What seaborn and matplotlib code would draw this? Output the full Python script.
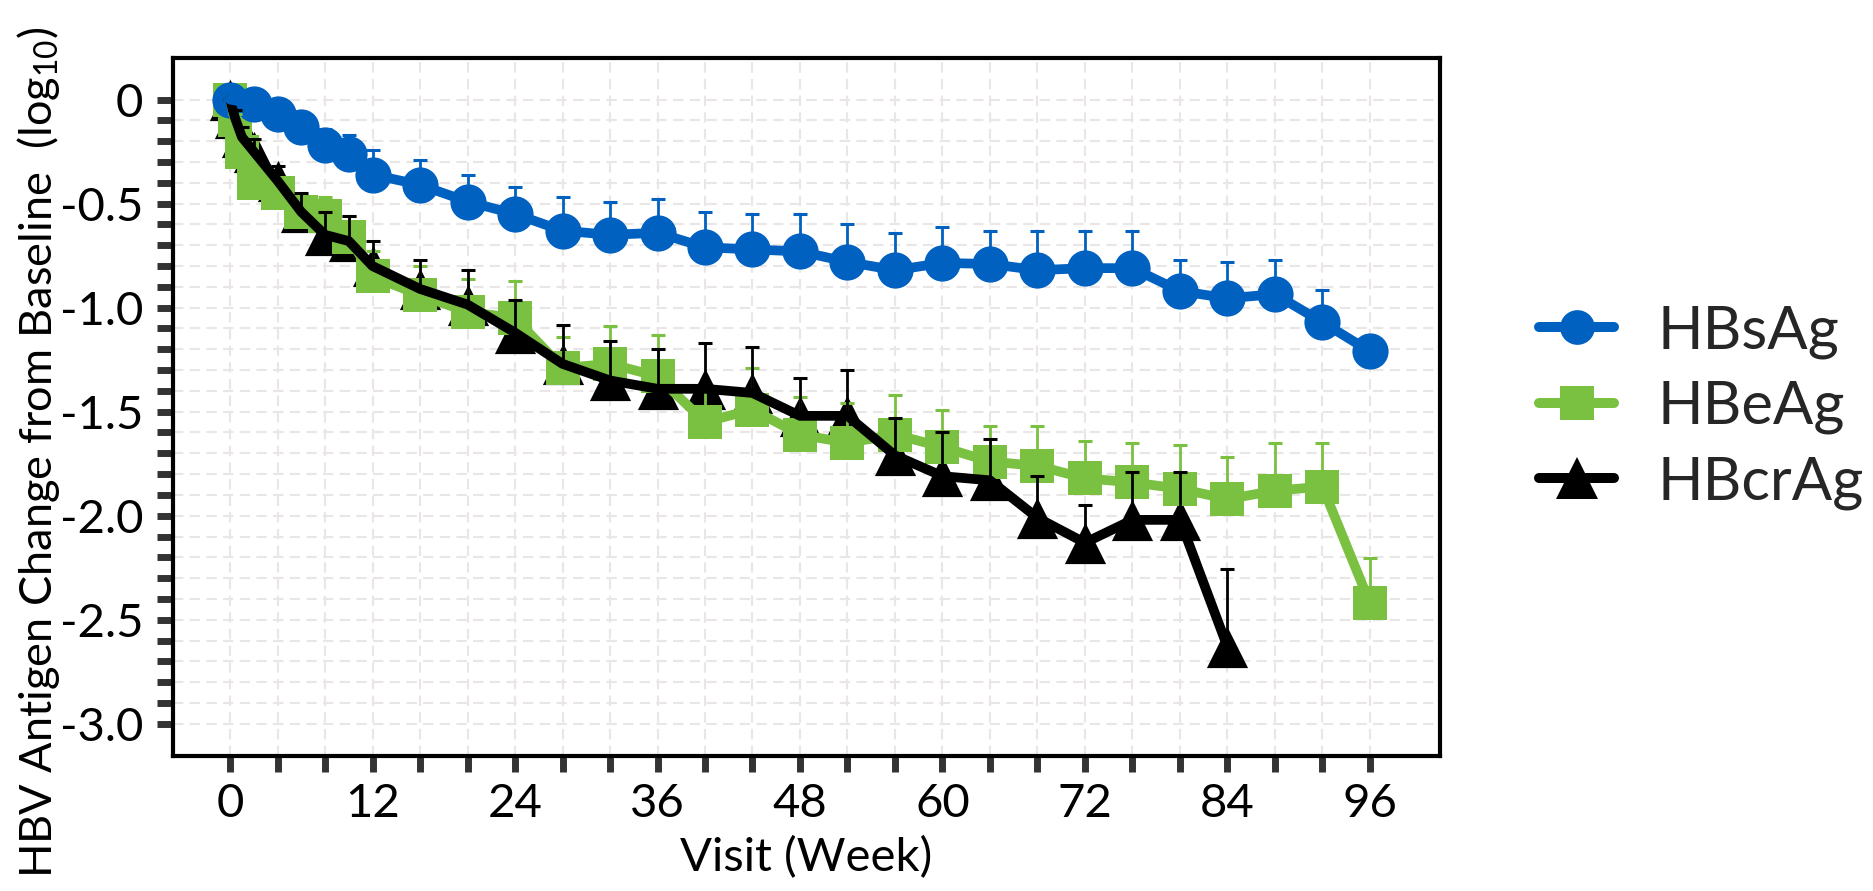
import numpy as np
import seaborn as sns
import matplotlib
matplotlib.use('Agg')  # no display in the sandbox
import matplotlib.pyplot as plt
from matplotlib.lines import Line2D
from matplotlib.ticker import FixedLocator

# values (mean change from baseline, log10, and upper error)
hbsag_weeks = [0, 2, 4, 6, 8, 10, 12, 16, 20, 24, 28, 32, 36, 40, 44, 48, 52, 56, 60, 64, 68, 72, 76, 80, 84, 88, 92, 96]
hbsag_mean = [0.0, -0.02, -0.07, -0.13, -0.22, -0.26, -0.36, -0.41, -0.49, -0.55, -0.63, -0.65, -0.64, -0.71,
              -0.72, -0.73, -0.78, -0.82, -0.785, -0.79, -0.82, -0.81, -0.81, -0.92, -0.955, -0.935, -1.07, -1.21]
hbsag_err = [0.0, 0.03, 0.05, 0.07, 0.08, 0.09, 0.12, 0.12, 0.13, 0.13, 0.16, 0.16, 0.16, 0.17,
             0.17, 0.18, 0.18, 0.18, 0.175, 0.16, 0.19, 0.18, 0.18, 0.15, 0.175, 0.165, 0.155, 0.04]

hbeag_weeks = [0, 0.43, 1, 2, 4, 6, 8, 10, 12, 16, 20, 24, 28, 32, 36, 40, 44, 48, 52, 56, 60, 64, 68, 72, 76,
               80, 84, 88, 92, 96]
hbeag_mean = [0.0, -0.10, -0.25, -0.40, -0.45, -0.54, -0.56, -0.66, -0.85, -0.94, -1.02, -1.05, -1.29, -1.27,
              -1.33, -1.55, -1.49, -1.61, -1.65, -1.61, -1.67, -1.74, -1.76, -1.82, -1.84, -1.87, -1.92, -1.88,
              -1.86, -2.42]
hbeag_err = [0.0, 0.03, 0.05, 0.06, 0.07, 0.08, 0.09, 0.10, 0.12, 0.14, 0.16, 0.18, 0.15, 0.18,
             0.20, 0.17, 0.20, 0.18, 0.19, 0.19, 0.18, 0.17, 0.19, 0.18, 0.19, 0.21, 0.20, 0.23, 0.21, 0.215]

hbcrag_weeks = [0, 0.43, 1, 2, 4, 6, 8, 10, 12, 16, 20, 24, 28, 32, 36, 40, 44, 48, 52, 56, 60, 64, 68, 72, 76,
                80, 84]
hbcrag_mean = [0.0, -0.09, -0.18, -0.25, -0.39, -0.54, -0.65, -0.68, -0.80, -0.91, -0.985, -1.12, -1.27, -1.35,
               -1.39, -1.39, -1.41, -1.52, -1.52, -1.71, -1.81, -1.83, -2.01, -2.13, -2.02, -2.02, -2.63]
hbcrag_err = [0.0, 0.04, 0.05, 0.06, 0.07, 0.09, 0.11, 0.12, 0.12, 0.14, 0.165, 0.155, 0.185, 0.19,
              0.19, 0.22, 0.22, 0.18, 0.22, 0.18, 0.21, 0.20, 0.20, 0.18, 0.23, 0.23, 0.375]

x_ticks = [0, 12, 24, 36, 48, 60, 72, 84, 96]
x_minor = list(range(0, 97, 4))
y_ticks = [0, -0.5, -1.0, -1.5, -2.0, -2.5, -3.0]
y_tick_labels = ['0', '-0.5', '-1.0', '-1.5', '-2.0', '-2.5', '-3.0']
y_minor = [round(-0.1 * i, 1) for i in range(31)]

blue = '#0061C1'
green = '#7AC142'
black = '#000000'

sns.set_theme(style='white')
plt.rcParams['font.family'] = ['Lato', 'DejaVu Sans']  # set after set_theme
plt.rcParams['axes.unicode_minus'] = False  # plain hyphen like the original
plt.rcParams['mathtext.fontset'] = 'custom'
plt.rcParams['mathtext.rm'] = 'Lato'

fig = plt.figure(figsize=(18.73, 8.91), dpi=100)
ax = fig.add_axes([0.0924, 0.1515, 0.6764, 0.7834])

# (name, x, y, err, colour, marker, marker area, marker z, line z)
series = [
    ('HBcrAg', hbcrag_weeks, hbcrag_mean, hbcrag_err, black, '^', 880, 2.0, 3.4),
    ('HBeAg', hbeag_weeks, hbeag_mean, hbeag_err, green, 's', 590, 2.1, 3.0),
    ('HBsAg', hbsag_weeks, hbsag_mean, hbsag_err, blue, 'o', 680, 2.2, 3.6),
]

for name, wk, mean, err, col, mk, area, mz, lz in series:
    # markers sit under the lines and error bars, as in the original
    sns.scatterplot(x=wk, y=mean, marker=mk, s=area, color=col, linewidth=0, ax=ax, zorder=mz, legend=False)
    sns.lineplot(x=wk, y=mean, color=col, linewidth=7, ax=ax, zorder=lz, legend=False, errorbar=None, sort=False)
    eb = ax.errorbar(wk, mean, yerr=[np.zeros(len(err)), err], fmt='none', ecolor=col,
                     elinewidth=2, capsize=4.7, capthick=2.2, zorder=lz + 0.1)
    eb[1][0].set_visible(False)  # only the upper cap is drawn

ax.set_xlim(-4.8, 101.9)
ax.set_ylim(-3.155, 0.2)
ax.xaxis.set_major_locator(FixedLocator(x_ticks))
ax.set_xticklabels([str(t) for t in x_ticks])
ax.xaxis.set_minor_locator(FixedLocator(x_minor))
ax.set_yticks(y_ticks, labels=y_tick_labels)
ax.yaxis.set_minor_locator(FixedLocator(y_minor))

ax.tick_params(which='both', direction='out', length=11.5, width=5, color='#333333',
               bottom=True, left=True, labelsize=34, labelcolor='black')
ax.tick_params(axis='x', which='both', pad=8)
ax.tick_params(axis='y', which='both', pad=10)

ax.grid(which='both', color='#ebe6e6', linestyle=(0, (5, 3)), linewidth=1.5, zorder=0)
ax.set_axisbelow(True)

for s in ax.spines.values():
    s.set_visible(True)
    s.set_color('black')
    s.set_linewidth(3)

ax.set_xlabel('Visit (Week)', fontsize=34, labelpad=8, color='black')
ax.set_ylabel('HBV Antigen Change from Baseline  (log$\\mathregular{_{10}}$)', fontsize=32.5, color='black')
ax.yaxis.set_label_coords(-0.088, 0.435)

handles = [
    Line2D([], [], color=blue, lw=7.2, marker='o', markersize=25, markeredgewidth=0),
    Line2D([], [], color=green, lw=7.2, marker='s', markersize=24, markeredgewidth=0),
    Line2D([], [], color=black, lw=7.2, marker='^', markersize=30, markeredgewidth=0),
]
fig.legend(handles, ['HBsAg', 'HBeAg', 'HBcrAg'], loc='center left', bbox_to_anchor=(0.8217, 0.5432),
           frameon=False, fontsize=43, handlelength=1.26, handletextpad=0.72, labelspacing=0.35,
           borderpad=0, borderaxespad=0)

fig.savefig('out.png', dpi=100)
plt.close(fig)
